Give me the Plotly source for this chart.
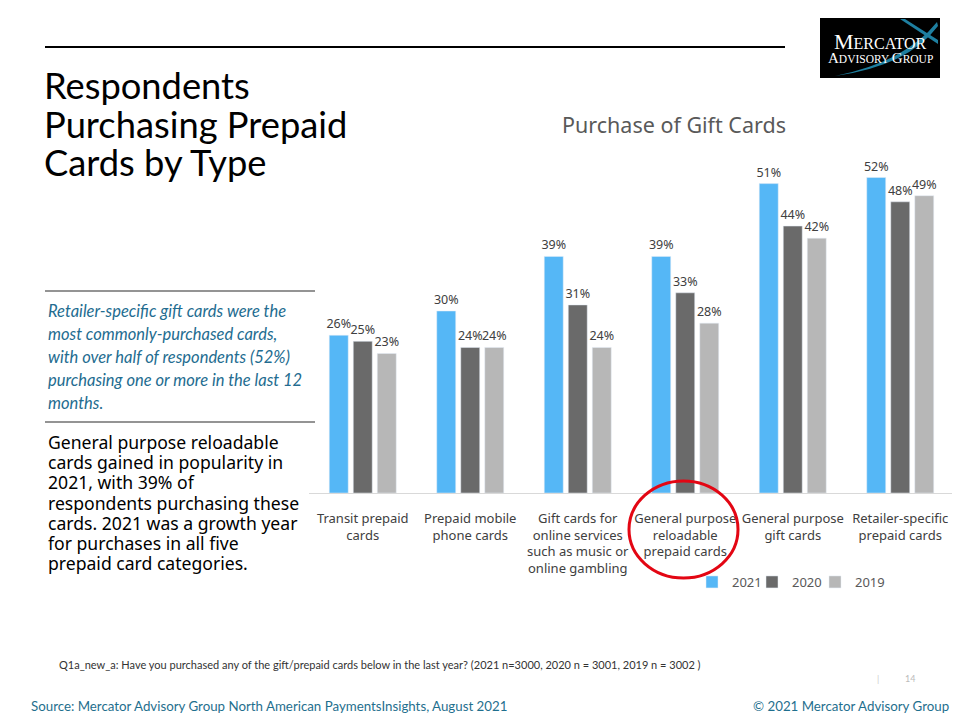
import plotly.graph_objects as go

categories = ["Transit prepaid<br>cards", "Prepaid mobile<br>phone cards",
              "Gift cards for<br>online services<br>such as music or<br>online gambling",
              "General purpose<br>reloadable<br>prepaid cards",
              "General purpose<br>gift cards", "Retailer-specific<br>prepaid cards"]
years = ["2021", "2020", "2019"]
v2021 = [26, 30, 39, 39, 51, 52]
v2020 = [25, 24, 31, 33, 44, 48]
v2019 = [23, 24, 24, 28, 42, 49]
colors = ["#55B7F6", "#6A6A6A", "#B7B7B7"]

# the page body has an 8px margin: figure is placed at (8, 8)
OFF = 8
W, H = 960 - OFF, 720 - OFF
def px(x): return (x - OFF) / W
def py(y): return 1 - (y - OFF) / H

legend_names = ["legend", "legend2", "legend3"]
legend_x = [692, 752, 815]

fig = go.Figure()
for name, vals, c, lg in zip(years, [v2021, v2020, v2019], colors, legend_names):
    fig.add_trace(go.Bar(
        x=categories, y=vals, name=name, marker_color=c, legend=lg,
        text=[f"{v}%" for v in vals], textposition="outside",
        textfont=dict(family="Noto Sans", size=12.5, color="#404040"),
        cliponaxis=False, constraintext="none",
    ))

legend_style = dict(orientation="h", xanchor="left", yanchor="middle",
                    font=dict(family="Noto Sans", size=13, color="#595959"),
                    itemwidth=30, bgcolor="rgba(0,0,0,0)")
fig.update_layout(
    width=W, height=H, margin=dict(l=0, r=0, t=0, b=0),
    paper_bgcolor="white", plot_bgcolor="white",
    barmode="group", bargap=0.33, bargroupgap=0.21,
    xaxis=dict(domain=[px(309), px(954)], showline=True, linecolor="#D9D9D9",
               linewidth=1, ticks="", showgrid=False, tickangle=0, ticklabelstandoff=13,
               tickfont=dict(family="Noto Sans", size=13, color="#404040")),
    yaxis=dict(domain=[py(493), py(129)], range=[0, 60], visible=False),
    showlegend=True,
)
for lg, lx in zip(legend_names, legend_x):
    fig.update_layout({lg: dict(legend_style, x=px(lx), y=py(582))})

ann = []
def text(x, y, s, size, color="black", family="Noto Sans", anchor="left", style="normal"):
    ann.append(dict(x=px(x), y=py(y), xref="paper", yref="paper", text=s, showarrow=False,
                    xanchor=anchor, yanchor="middle",
                    font=dict(family=family, size=size, color=color, style=style)))

# chart title
text(674, 124, "Purchase of Gift Cards", 21.5, "#595959", anchor="center")

# slide title
for i, s in enumerate(["Respondents", "Purchasing Prepaid", "Cards by Type"]):
    text(42, 85 + i * 38.5, s, 36.3, "black", family="Lato")

# italic callout
for i, s in enumerate(["Retailer-specific gift cards were the", "most commonly-purchased cards,",
                       "with over half of respondents (52%)", "purchasing one or more in the last 12",
                       "months."]):
    text(46, 311 + i * 23, s, 16.5, "#236C90", family="Lato", style="italic")

# body text
for i, s in enumerate(["General purpose reloadable", "cards gained in popularity in",
                       "2021, with 39% of", "respondents purchasing these",
                       "cards. 2021 was a growth year", "for purchases in all five",
                       "prepaid card categories."]):
    text(46, 442 + i * 20.2, s, 17.6, "black", family="Noto Sans")

# footnote
text(57, 664, "Q1a_new_a: Have you purchased any of the gift/prepaid cards below in the last year? (2021 n=3000, 2020 n = 3001, 2019 n = 3002 )",
     11, "#333333", family="Lato")
text(875, 678, "|", 9, "#CCCCCC", family="Lato")
text(903, 678, "14", 9, "#BBBBBB", family="Lato")

# footer
text(29, 706, "Source: Mercator Advisory Group North American PaymentsInsights, August 2021", 13.3, "#1F6F8E", family="Lato")
text(951, 706, "© 2021 Mercator Advisory Group", 13.3, "#1F6F8E", family="Lato", anchor="right")

# logo text
text(880, 41, "M<span style='font-size:16px'>ERCATOR</span>", 22, "white", family="Liberation Serif", anchor="center")
text(880, 58, "A<span style='font-size:11.5px'>DVISORY </span>G<span style='font-size:11.5px'>ROUP</span>", 15, "white", family="Liberation Serif", anchor="center")

fig.update_layout(annotations=ann)

shapes = [
    dict(type="line", xref="paper", yref="paper", x0=px(45), x1=px(785), y0=py(47), y1=py(47),
         line=dict(color="black", width=2)),
    dict(type="line", xref="paper", yref="paper", x0=px(45), x1=px(315), y0=py(291), y1=py(291),
         line=dict(color="#707070", width=1.5)),
    dict(type="line", xref="paper", yref="paper", x0=px(45), x1=px(315), y0=py(422), y1=py(422),
         line=dict(color="#707070", width=1.5)),
    # logo box
    dict(type="rect", xref="paper", yref="paper", x0=px(820), x1=px(940), y0=py(78), y1=py(18),
         fillcolor="black", line=dict(width=0), layer="below"),
    dict(type="path", xref="paper", yref="paper",
         path=f"M {px(835)} {py(76)} Q {px(905)} {py(62)} {px(937)} {py(22)} L {px(938)} {py(26)} Q {px(908)} {py(66)} {px(835)} {py(76)} Z",
         fillcolor="#1E7FA0", line=dict(width=0), layer="below"),
    dict(type="path", xref="paper", yref="paper",
         path=f"M {px(905)} {py(19)} L {px(938)} {py(40)} L {px(938)} {py(44)} L {px(900)} {py(19)} Z",
         fillcolor="#1E7FA0", line=dict(width=0), layer="below"),
    # red circle
    dict(type="circle", xref="paper", yref="paper", x0=px(629), x1=px(738), y0=py(578), y1=py(481),
         line=dict(color="#E30613", width=3)),
]
fig.update_layout(shapes=shapes)

fig.write_html("out.html")
